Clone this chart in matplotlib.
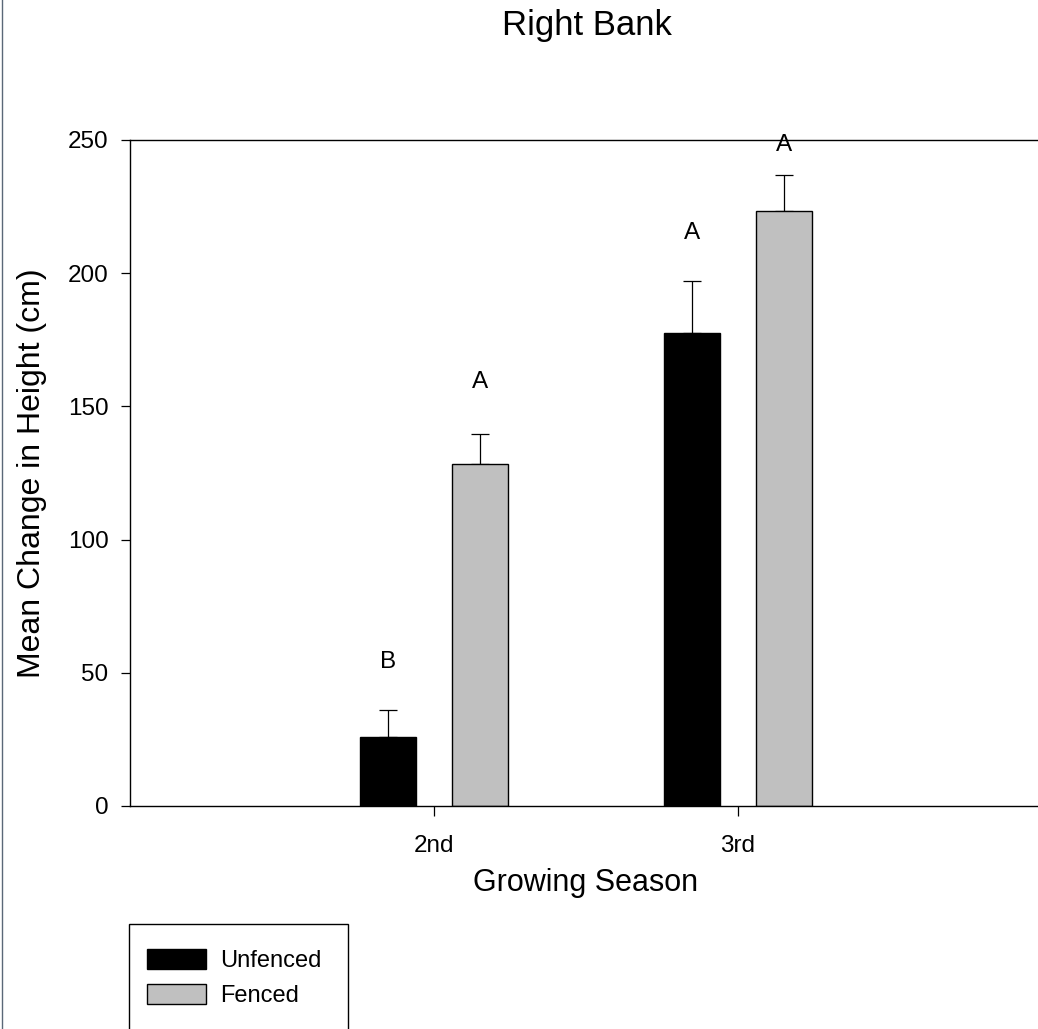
import matplotlib
matplotlib.use('Agg')
import matplotlib.pyplot as plt
import numpy as np
from matplotlib.lines import Line2D
from matplotlib.patches import Rectangle

seasons = ['2nd', '3rd']
unfenced = [26.0, 177.5]
unfenced_err = [10.0, 19.7]
fenced = [128.3, 223.5]
fenced_err = [11.3, 13.4]
unfenced_letters = ['B', 'A']
unfenced_letter_y = [54, 215]
fenced_letters = ['A', 'A']
fenced_letter_y = [159, 248]

plt.rcParams['font.family'] = ['Liberation Sans', 'DejaVu Sans']

W, H = 1038, 1029
fig = plt.figure(figsize=(W / 100, H / 100), dpi=100)
ax = fig.add_axes([130 / W, 1 - 806 / H, (1042 - 130) / W, (806 - 140) / H])

x = np.arange(len(seasons))
off = 0.15
bw = 0.184

ax.bar(x - off, unfenced, bw, color='black', edgecolor='black', linewidth=1.0,
       label='Unfenced', zorder=2)
ax.bar(x + off, fenced, bw, color='#c0c0c0', edgecolor='black', linewidth=1.0,
       label='Fenced', zorder=2)
ax.errorbar(x - off, unfenced, yerr=[np.zeros(len(x)), unfenced_err], fmt='none',
            ecolor='black', elinewidth=0.9, capsize=6.5, capthick=0.9, zorder=1)
ax.errorbar(x + off, fenced, yerr=[np.zeros(len(x)), fenced_err], fmt='none',
            ecolor='black', elinewidth=0.9, capsize=6.5, capthick=0.9, zorder=1)

for xi, t, yy in zip(x - off, unfenced_letters, unfenced_letter_y):
    ax.text(xi, yy, t, ha='center', va='center', fontsize=17.5)
for xi, t, yy in zip(x + off, fenced_letters, fenced_letter_y):
    ax.text(xi, yy, t, ha='center', va='center', fontsize=17.5)

ax.set_xlim(-1, 2)
ax.set_ylim(0, 250)
ax.set_xticks(x)
ax.set_xticklabels(seasons)
ax.set_yticks([0, 50, 100, 150, 200, 250])
ax.tick_params(axis='y', direction='out', length=6.5, width=0.9, pad=9, labelsize=17.5)
ax.tick_params(axis='x', direction='out', length=7, width=0.9, pad=14, labelsize=17.5)
for s in ['left', 'bottom', 'top']:
    ax.spines[s].set_linewidth(1.0)
ax.spines['right'].set_visible(False)

ax.set_ylabel('Mean Change in Height (cm)', fontsize=23, labelpad=15)
ax.set_xlabel('Growing Season', fontsize=22, labelpad=8)
fig.text(587 / W, 1 - 25 / H, 'Right Bank', ha='center', va='center', fontsize=25)

# legend box runs off the bottom of the page
fig.add_artist(Rectangle((129 / W, -10 / H), (348 - 129) / W, (10 + 1029 - 924) / H,
                         transform=fig.transFigure, facecolor='white',
                         edgecolor='black', linewidth=1.0))
leg = fig.legend(loc='upper left', bbox_to_anchor=(147 / W, 1 - 949 / H),
                 fontsize=17, frameon=False,
                 handlelength=2.5, handleheight=0.95, labelspacing=0.5,
                 borderpad=0, borderaxespad=0, handletextpad=0.6)
for p in leg.get_patches():
    p.set_edgecolor('black')

fig.add_artist(Line2D([1.5 / W, 1.5 / W], [0, 1], color='#5a6878', linewidth=1.0,
                      transform=fig.transFigure))

fig.savefig('out.png', dpi=100)
